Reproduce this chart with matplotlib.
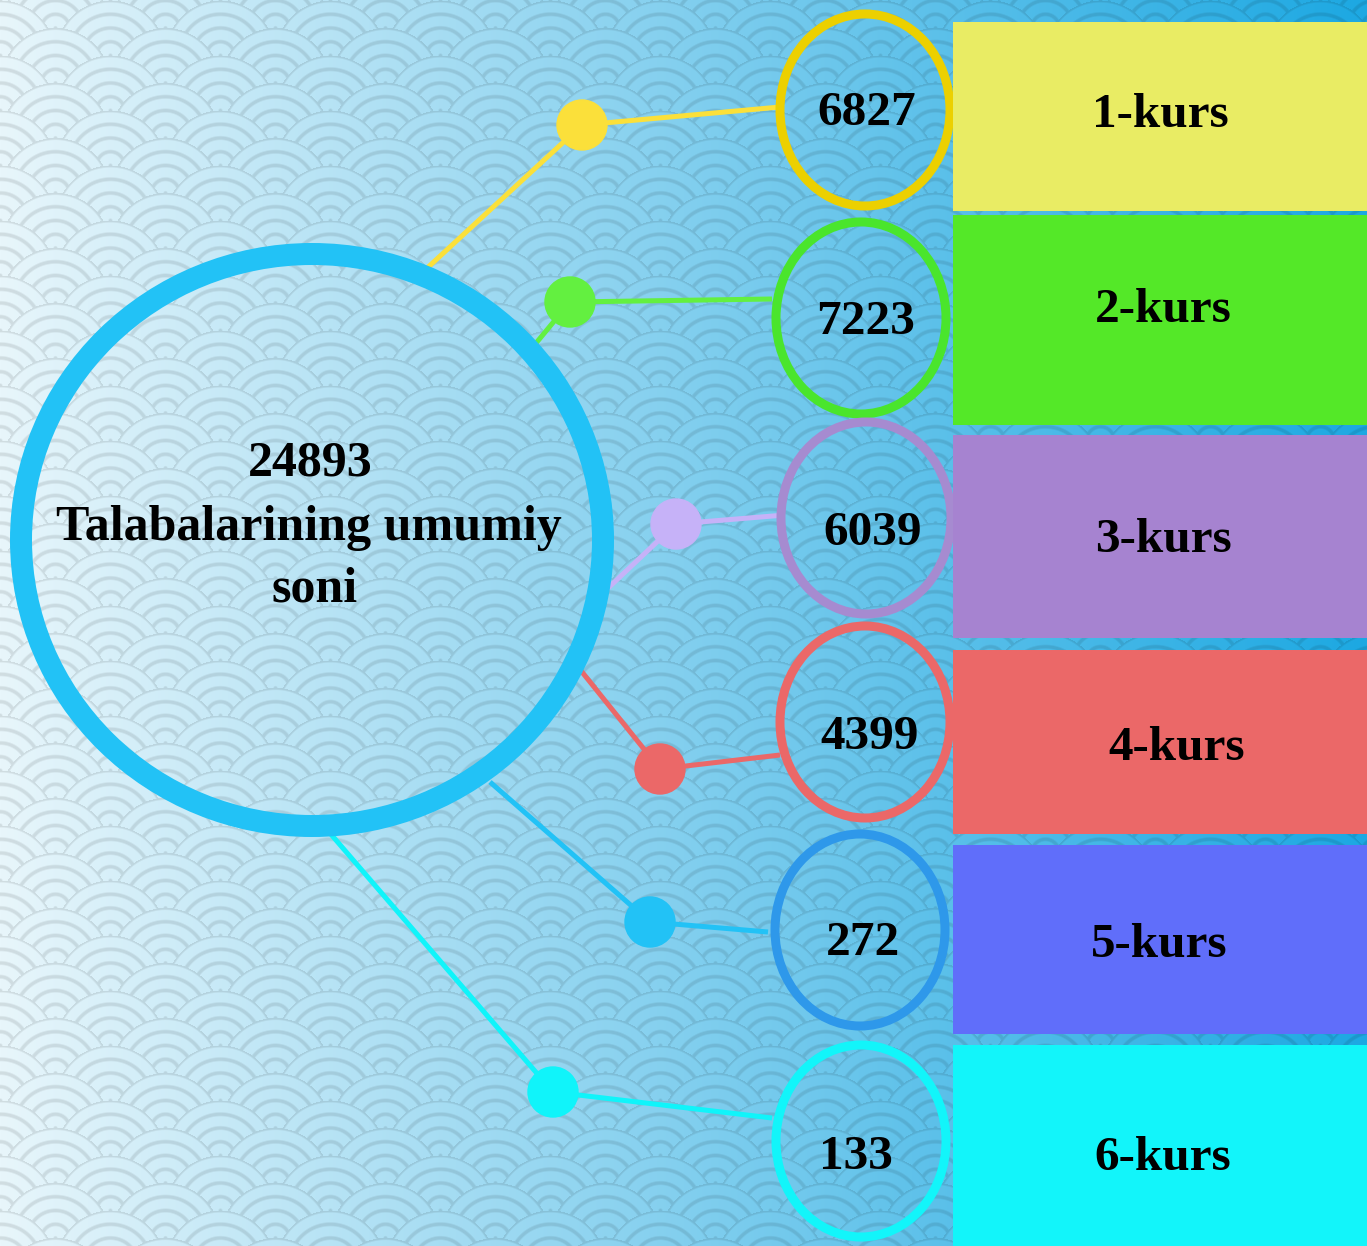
import numpy as np
import matplotlib
matplotlib.use("Agg")
import matplotlib.pyplot as plt
from matplotlib.patches import Ellipse, Circle, Rectangle

W, H = 1367, 1246

# data
total = 24893
total_label = ["Talabalarining umumiy", "soni"]
courses = ["1-kurs", "2-kurs", "3-kurs", "4-kurs", "5-kurs", "6-kurs"]
counts = [6827, 7223, 6039, 4399, 272, 133]

# colours
box_colors = ["#e9ec64", "#54e828", "#a683d0", "#eb6868", "#606efa", "#12f5fa"]
ring_colors = ["#ecd000", "#4ae52c", "#a68bd0", "#eb6868", "#2e98ea", "#12f5fa"]
link_colors = ["#fbe03a", "#63f040", "#c6b2f8", "#eb6868", "#22c2f6", "#10f4fa"]
big_color = "#22c2f6"

# layout (pixels, y down)
big_c, big_w, big_h = (312, 540), 582, 572
small_c = [(865, 110), (861, 318), (866, 518), (865, 722), (860, 930), (861, 1141)]
small_w, small_h = 170, 192
dots = [(582, 125), (570, 302), (676, 524), (660, 769), (650, 922), (553, 1092)]
starts = [(425, 270), (532, 348), (606, 590), (578, 667), (490, 782), (329, 832)]
ends = [(780, 107), (772, 299), (785, 515), (780, 755), (768, 932), (772, 1118)]
boxes = [(22, 211), (215, 425), (435, 638), (650, 834), (845, 1034), (1045, 1246)]
box_x0 = 953
num_base = [125, 334, 545, 749, 955, 1169]
num_x = [867, 866, 873, 870, 863, 856]
lab_base = [127, 322, 552, 760, 957, 1170]
lab_x = [1160, 1163, 1163, 1177, 1159, 1163]

# background: gradient + seigaiha wave pattern
yy, xx = np.mgrid[0:H, 0:W].astype(float)
t = xx / W
c0 = np.array([232, 246, 251]) / 255
c1 = np.array([28, 168, 226]) / 255
bg = c0[None, None, :] * (1 - t[..., None]) + c1[None, None, :] * t[..., None]

R = 55.0
hstep = R / 2
dist = np.full((H, W), np.nan)
jmax = int((H + R) / hstep) + 2
for j in range(-2, jmax):
    yc = j * hstep
    off = R if j % 2 else 0.0
    xc = np.round((xx - off) / (2 * R)) * 2 * R + off
    d = np.hypot(xx - xc, yy - yc)
    dist = np.where(d < R, d, dist)
s = R / 4
ph = np.nan_to_num(dist, nan=R) / s
dl = np.abs(ph - np.round(ph)) * s
line = np.clip(1 - (dl - 1.0) / 1.6, 0, 1)
bg = bg * (1 - 0.10 * line[..., None])

fig = plt.figure(figsize=(W / 100, H / 100), dpi=100)
ax = fig.add_axes([0, 0, 1, 1])
ax.imshow(bg, extent=[0, W, H, 0], interpolation="bilinear", zorder=0)
ax.set_xlim(0, W)
ax.set_ylim(H, 0)
ax.axis("off")

px = 0.72  # points per pixel

# connectors
for i in range(6):
    ax.plot([starts[i][0], dots[i][0], ends[i][0]],
            [starts[i][1], dots[i][1], ends[i][1]],
            color=link_colors[i], lw=5 * px, solid_capstyle="butt", zorder=2)
    ax.add_patch(Circle(dots[i], 25, color=link_colors[i], zorder=3))

# big circle
ax.add_patch(Ellipse(big_c, big_w, big_h, fill=False, ec=big_color, lw=22 * px, zorder=4))
font = dict(family="Liberation Serif", weight="bold", fontsize=36, color="black")
ax.text(big_c[0] - 2, 475, str(total), ha="center", va="baseline", zorder=5, **font)
ax.text(big_c[0] - 3, 540, total_label[0], ha="center", va="baseline", zorder=5, **font)
ax.text(big_c[0] + 3, 601, total_label[1], ha="center", va="baseline", zorder=5, **font)

# small circles, values and course boxes
for i in range(6):
    ax.add_patch(Ellipse(small_c[i], small_w, small_h, fill=False,
                         ec=ring_colors[i], lw=9 * px, zorder=4))
    ax.text(num_x[i], num_base[i], str(counts[i]), ha="center", va="baseline",
            zorder=5, **dict(font, fontsize=35.5))
    y0, y1 = boxes[i]
    ax.add_patch(Rectangle((box_x0, y0), W - box_x0, y1 - y0,
                           color=box_colors[i], lw=0, zorder=4))
    ax.text(lab_x[i], lab_base[i], courses[i], ha="center", va="baseline",
            zorder=5, **dict(font, fontsize=35.5))

fig.savefig("out.png", dpi=100)
